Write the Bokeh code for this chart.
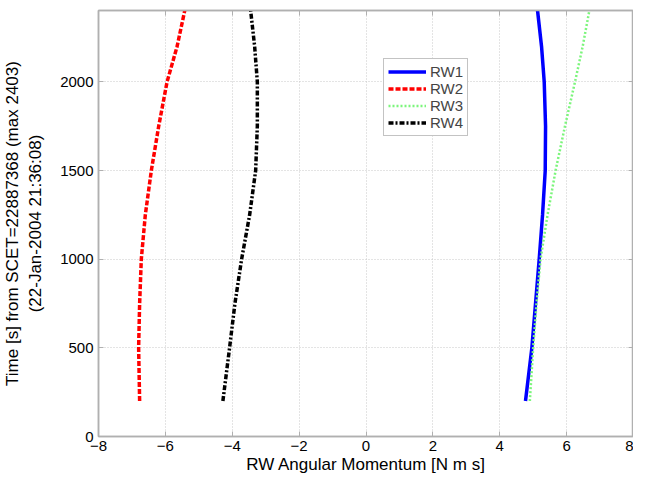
from bokeh.plotting import figure
from bokeh.models import LinearAxis, Range1d, FixedTicker, Legend, LegendItem, CustomJSTickFormatter
from bokeh.embed import file_html
from bokeh.resources import INLINE

time = [200, 500, 750, 1000, 1250, 1500, 1750, 2000, 2200, 2403]
rw1 = [4.77, 4.96, 5.07, 5.18, 5.28, 5.36, 5.37, 5.33, 5.25, 5.13]
rw2 = [-6.77, -6.80, -6.77, -6.72, -6.60, -6.42, -6.20, -5.95, -5.65, -5.42]
rw3 = [4.90, 5.00, 5.10, 5.22, 5.43, 5.67, 5.95, 6.25, 6.48, 6.68]
rw4 = [-4.28, -4.08, -3.92, -3.72, -3.48, -3.30, -3.25, -3.25, -3.33, -3.45]
names = ["RW1", "RW2", "RW3", "RW4"]
x_ticks = [-8, -6, -4, -2, 0, 2, 4, 6, 8]
y_ticks = [0, 500, 1000, 1500, 2000]

FONT = "Liberation Sans"
AXC = "#b0b0b0"

p = figure(width=633, height=476, output_backend="svg", toolbar_location=None,
           x_range=Range1d(-8, 8), y_range=Range1d(0, 2403),
           min_border_left=90, min_border_right=0, min_border_top=10, min_border_bottom=0)
p.outline_line_color = AXC
p.outline_line_width = 1.5

for ax in (p.xaxis[0], p.yaxis[0]):
    ax.major_tick_in = 5
    ax.major_tick_out = 0
    ax.minor_tick_in = 0
    ax.minor_tick_out = 0
    ax.axis_line_color = AXC
    ax.axis_line_width = 1.5
    ax.major_tick_line_color = AXC
    ax.major_label_text_font = FONT
    ax.major_label_text_font_size = "15px"
    ax.major_label_text_color = "black"
    ax.axis_label_text_font = FONT
    ax.axis_label_text_font_size = "17px"
    ax.axis_label_text_font_style = "normal"
    ax.axis_label_text_color = "black"

p.xaxis[0].ticker = FixedTicker(ticks=x_ticks)
p.yaxis[0].ticker = FixedTicker(ticks=y_ticks)
p.xaxis[0].axis_label = "RW Angular Momentum [N m s]"
p.yaxis[0].axis_label = "Time [s] from SCET=22887368 (max 2403)\n(22-Jan-2004 21:36:08)"
p.xaxis[0].axis_label_standoff = 1
p.yaxis[0].axis_label_standoff = 12
p.xaxis[0].major_label_standoff = 4
p.yaxis[0].major_label_standoff = 5

for loc, tk in (("above", x_ticks), ("right", y_ticks)):
    a = LinearAxis(ticker=FixedTicker(ticks=tk),
                   formatter=CustomJSTickFormatter(code="return ''"),
                   major_tick_in=5, major_tick_out=0, minor_tick_in=0, minor_tick_out=0,
                   axis_line_color=AXC, axis_line_width=1.5, major_tick_line_color=AXC,
                   major_label_standoff=0)
    p.add_layout(a, loc)

p.xgrid.grid_line_color = "#c8c8c8"
p.ygrid.grid_line_color = "#c8c8c8"
p.xgrid.grid_line_dash = "1 2"
p.ygrid.grid_line_dash = "1 2"

r1 = p.line(rw1, time, line_color="#0000ff", line_width=3.5)
r2 = p.line(rw2, time, line_color="#ff0000", line_width=3.5, line_dash="5 2")
r3 = p.line(rw3, time, line_color="#7cf57c", line_width=2.5, line_dash="2 2")
r4 = p.line(rw4, time, line_color="#000000", line_width=3.5, line_dash="5 2 2 2")

legend = Legend(items=[LegendItem(label=n, renderers=[r]) for n, r in zip(names, [r1, r2, r3, r4])],
                location=(285, 300))
legend.label_text_font = FONT
legend.label_text_font_size = "15px"
legend.glyph_width = 38
legend.glyph_height = 15
legend.label_height = 15
legend.spacing = 0
legend.padding = 4
legend.margin = 0
legend.label_standoff = 4
legend.border_line_color = "#888888"
legend.border_line_width = 1.5
p.add_layout(legend, "center")

open("out.html", "w").write(file_html(p, INLINE))
